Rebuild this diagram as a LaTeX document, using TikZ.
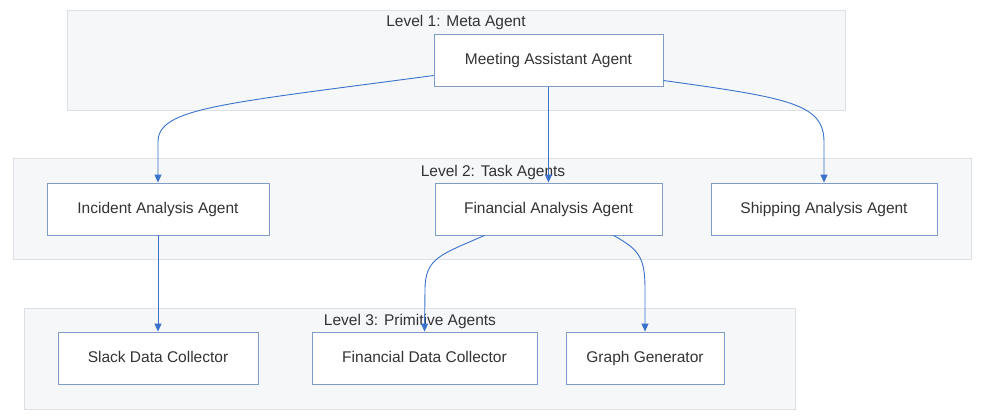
\documentclass[tikz,border=0pt]{standalone}
\usepackage{fontspec}
\setmainfont{Liberation Sans}
\usetikzlibrary{arrows.meta}
\definecolor{lvlfill}{HTML}{F5F7F9}
\definecolor{lvlline}{HTML}{DDE1E6}
\definecolor{boxline}{HTML}{7F9CC8}
\definecolor{linkblue}{HTML}{3A72CC}
\definecolor{txt}{HTML}{333333}
\tikzset{
  level/.style={draw=lvlline,fill=lvlfill,line width=0.8pt,inner sep=0pt},
  agent/.style={draw=boxline,fill=white,line width=0.9pt,minimum height=52pt,text height=11.5pt,text depth=3pt,text=txt,font=\fontsize{15.5}{18}\selectfont},
  lvltitle/.style={text=txt,font=\fontsize{15.5}{18}\selectfont,inner sep=0pt},
  link/.style={draw=linkblue,line width=0.9pt,-{Triangle[length=8pt,width=7pt]}}
}
\begin{document}
\begin{tikzpicture}[x=1pt,y=-1pt]
\useasboundingbox (0,0) rectangle (982,417);
% levels
\node[level,minimum width=778pt,minimum height=100pt] (lvl1) at (456,60) {};
\node[level,minimum width=958pt,minimum height=101pt] (lvl2) at (492,208.5) {};
\node[level,minimum width=771pt,minimum height=101pt] (lvl3) at (409.5,358.5) {};
\node[lvltitle] (t1) at (456,22.5) {Level 1: Meta Agent};
\node[lvltitle] (t2) at (493,172.5) {Level 2: Task Agents};
\node[lvltitle] (t3) at (410,321.5) {Level 3: Primitive Agents};
% agents
\node[agent,minimum width=229pt] (meet) at (548.5,60.5) {Meeting Assistant Agent};
\node[agent,minimum width=222pt] (inc) at (158,209) {Incident Analysis Agent};
\node[agent,minimum width=227pt] (fin) at (548.5,209) {Financial Analysis Agent};
\node[agent,minimum width=226pt] (ship) at (824,209) {Shipping Analysis Agent};
\node[agent,minimum width=200pt] (slack) at (158,358) {Slack Data Collector};
\node[agent,minimum width=225pt] (fdc) at (424.5,358) {Financial Data Collector};
\node[agent,minimum width=158pt] (graph) at (645,358) {Graph Generator};
% links
\draw[link] ([yshift=-15pt]meet.west) .. controls (220,104) and (158,108) .. (158,142) -- (inc.north);
\draw[link] (meet.south) -- (fin.north);
\draw[link] ([yshift=-20pt]meet.east) .. controls (790,98) and (824,104) .. (824,142) -- (ship.north);
\draw[link] (inc.south) -- (slack.north);
\draw[link] ([xshift=-64pt]fin.south) .. controls (440,255) and (425,258) .. (425,290) -- (fdc.north);
\draw[link] ([xshift=65pt]fin.south) .. controls (640,250) and (645,258) .. (645,290) -- (graph.north);
\end{tikzpicture}
\end{document}
